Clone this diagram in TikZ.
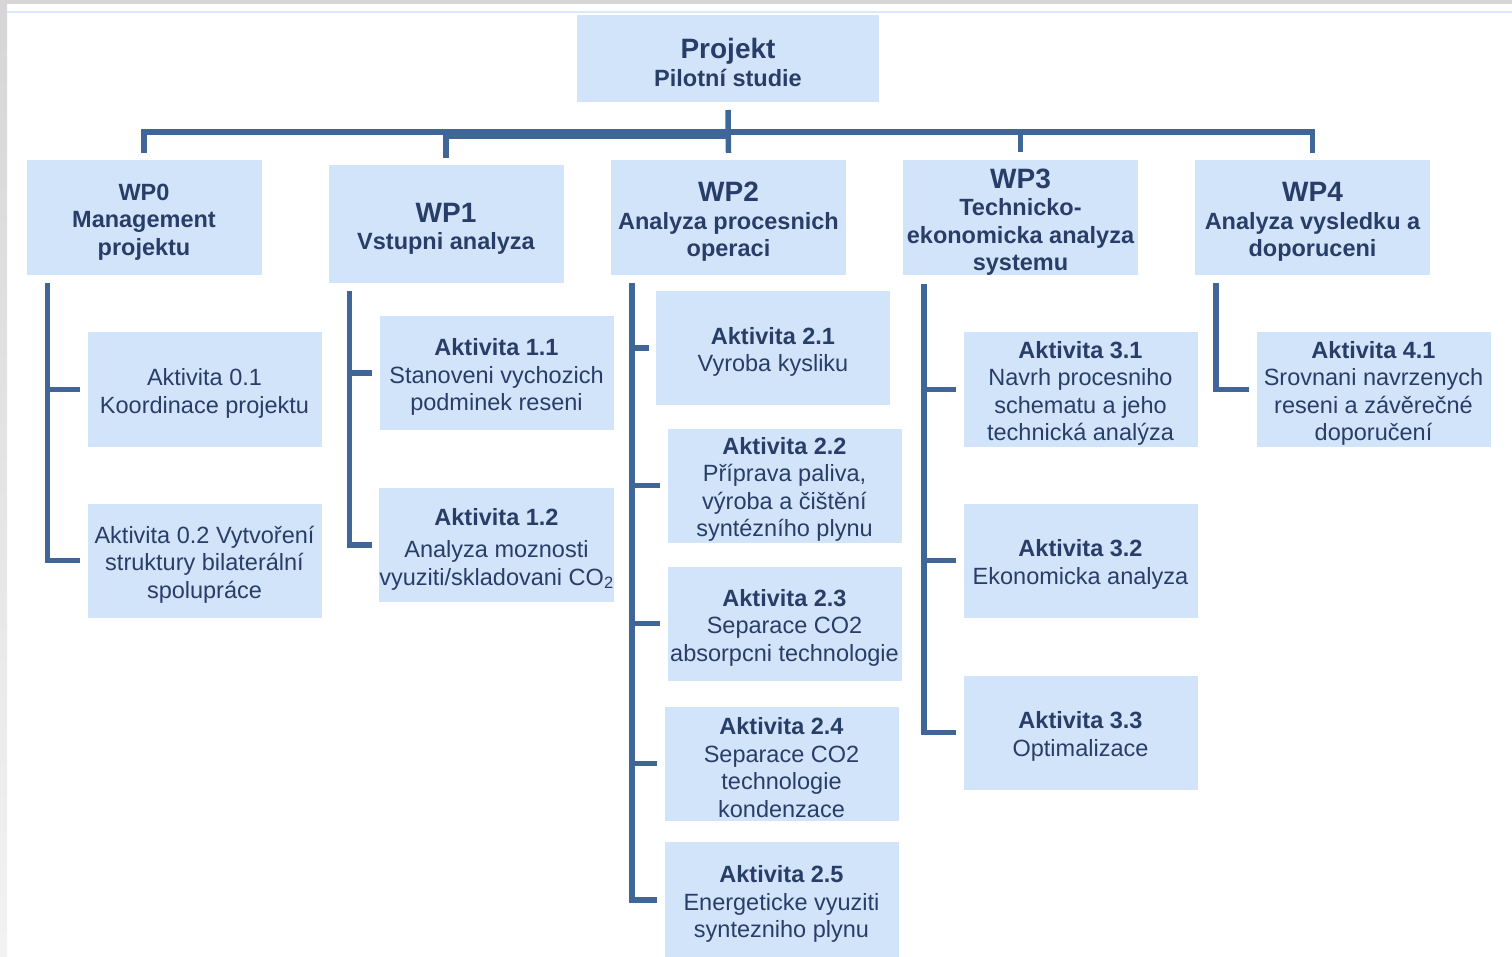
\documentclass[tikz,border=0pt]{standalone}
\usepackage{fontspec}
\setmainfont{Liberation Sans}
\definecolor{boxblue}{RGB}{210,228,250}
\definecolor{textblue}{RGB}{40,62,104}
\definecolor{lineblue}{RGB}{64,102,152}
\definecolor{framegray}{RGB}{214,214,214}
\definecolor{rimblue}{RGB}{218,234,252}
\newcommand{\lead}{\rule{0pt}{25pt}}
\newcommand{\wptitle}[1]{{\fontsize{28}{30}\selectfont\bfseries\rule{0pt}{28.5pt}#1}}
\newcommand{\akt}[1]{\lead\textbf{Aktivita #1}}
\begin{document}
\begin{tikzpicture}[x=1pt,y=-1pt,
    wp box/.style={rectangle,fill=boxblue,text=textblue,align=center,inner sep=0pt,
      minimum width=235pt,minimum height=115pt,font=\fontsize{23.5}{27.5}\selectfont\bfseries},
    act box/.style={rectangle,fill=boxblue,text=textblue,align=center,inner sep=0pt,
      minimum width=234pt,minimum height=114pt,font=\fontsize{23.5}{27.5}\selectfont},
    conn/.style={draw=lineblue,line width=5.5pt}]

  \useasboundingbox (0,0) rectangle (1512,957);

  % Frame of the screenshot
  \shade[top color=framegray,bottom color=black!5] (0,0) rectangle (7,957);
  \fill[framegray] (0,0) rectangle (1512,4);
  \draw[rimblue,line width=1.2pt] (7,12) -- (1512,12);

  % Define vertices
  \node[wp box,minimum width=302pt,minimum height=87pt] (proj) at (728,58.5)
    {\wptitle{Projekt}\\Pilotní studie};

  \node[wp box] (wp0) at (144,217.5) {\lead WP0\\Management\\projektu};
  \node[wp box,minimum height=118pt] (wp1) at (446,224) {\wptitle{WP1}\\Vstupni analyza};
  \node[wp box] (wp2) at (728.5,217.5) {\wptitle{WP2}\\Analyza procesnich\\operaci};
  \node[wp box] (wp3) at (1020.5,217.5) {\wptitle{WP3}\\Technicko-\\ekonomicka analyza\\systemu};
  \node[wp box] (wp4) at (1312.5,217.5) {\wptitle{WP4}\\Analyza vysledku a\\doporuceni};

  \node[act box] (a01) at (204.5,389.5) {\lead Aktivita 0.1\\Koordinace projektu};
  \node[act box] (a02) at (204.5,560.5) {\lead Aktivita 0.2 Vytvoření\\struktury bilaterální\\spolupráce};

  \node[act box] (a11) at (496.5,373) {\akt{1.1}\\Stanoveni vychozich\\podminek reseni};
  \node[act box] (a12) at (496.5,545) {\akt{1.2}\\[5pt]Analyza moznosti\\vyuziti/skladovani CO\textsubscript{2}};

  \node[act box] (a21) at (773,348) {\akt{2.1}\\Vyroba kysliku};
  \node[act box] (a22) at (784.5,485.5) {\akt{2.2}\\Příprava paliva,\\výroba a čištění\\syntézního plynu};
  \node[act box] (a23) at (784.5,623.5) {\akt{2.3}\\Separace CO2\\absorpcni technologie};
  \node[act box] (a24) at (781.5,763.5) {\akt{2.4}\\Separace CO2\\technologie\\kondenzace};
  \node[act box,minimum height=116pt] (a25) at (781.5,900) {\akt{2.5}\\Energeticke vyuziti\\syntezniho plynu};

  \node[act box] (a31) at (1080.5,389.5) {\akt{3.1}\\Navrh procesniho\\schematu a jeho\\technická analýza};
  \node[act box] (a32) at (1080.5,560.5) {\akt{3.2}\\Ekonomicka analyza};
  \node[act box] (a33) at (1080.5,732.5) {\akt{3.3}\\Optimalizace};

  \node[act box] (a41) at (1373.5,389.5) {\akt{4.1}\\Srovnani navrzenych\\reseni a závěrečné\\doporučení};

  % Draw edges
  \coordinate (bar) at (728,132);
  \coordinate (bar2) at (728,137);
  \draw[conn] ([yshift=7pt]wp0.north) -- (wp0.north |- bar) -- (wp4.north |- bar) -- ([yshift=7pt]wp4.north);
  \draw[conn,line width=5pt] (bar2 -| wp1.north) -- (bar2);
  \draw[conn] (728,110) -- ([yshift=7pt]wp2.north);
  \foreach \w in {wp1,wp3}
    \draw[conn] (\w.north |- bar) -- ([yshift=7pt]\w.north);

  \foreach \w/\last in {wp0/a02,wp1/a12,wp2/a25,wp3/a33,wp4/a41} {
    \coordinate (t-\w) at ([shift={(21pt,-8pt)}]\w.south west);
    \draw[conn] (t-\w) |- ([xshift=-7pt]\last.west);
  }
  \foreach \w/\a in {wp0/a01,wp1/a11,wp2/a21,wp2/a22,wp2/a23,wp2/a24,wp3/a31,wp3/a32}
    \draw[conn] (t-\w |- \a.west) -- ([xshift=-7pt]\a.west);

\end{tikzpicture}
\end{document}
